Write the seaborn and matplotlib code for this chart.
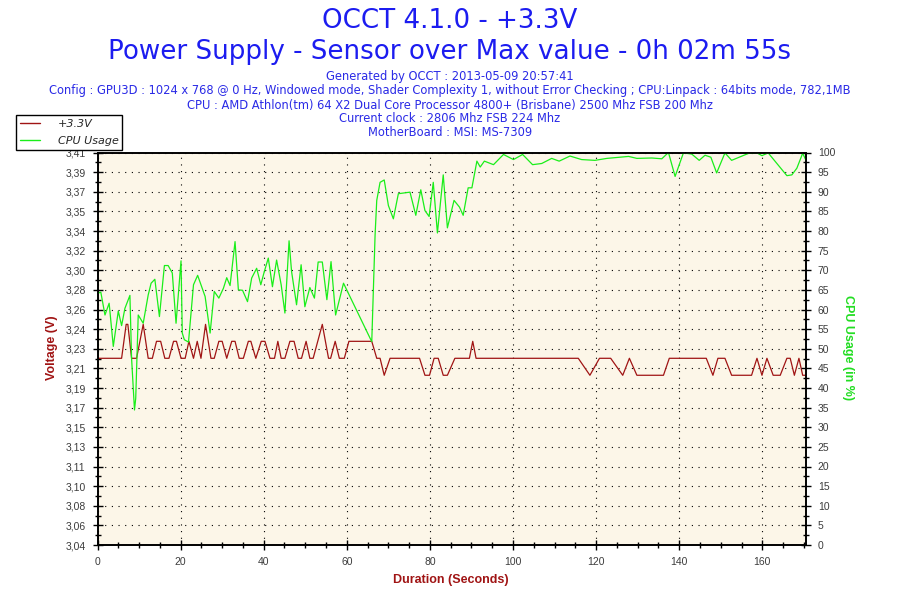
import matplotlib
matplotlib.use('Agg')
import numpy as np
import matplotlib.pyplot as plt
import seaborn as sns
from matplotlib.lines import Line2D
from matplotlib.ticker import MultipleLocator, FixedLocator

# --- data ---
cpu_time = [0.2, 0.8, 1.8, 2.8, 3.8, 5.0, 5.8, 6.6, 7.8, 8.2, 8.9, 9.2, 9.8, 11.0, 12.2, 12.9,
            13.8, 14.9, 16.1, 17.0, 18.0, 18.9, 20.1, 20.4, 20.9, 21.9, 23.1, 24.1, 25.9, 27.1,
            28.1, 29.2, 30.3, 31.1, 31.9, 33.1, 33.9, 34.9, 36.1, 37.1, 38.3, 39.3, 40.1, 41.1,
            42.1, 43.1, 44.2, 45.1, 46.1, 46.7, 47.9, 49.0, 49.9, 51.1, 52.2, 53.1, 54.1, 55.2,
            56.2, 57.3, 59.2, 66.0, 66.8, 67.2, 68.0, 69.0, 70.0, 71.2, 72.4, 75.2, 76.6, 77.8,
            78.8, 79.8, 80.8, 81.8, 83.2, 84.2, 85.8, 87.1, 88.0, 89.2, 90.1, 91.3, 92.1, 93.1,
            95.3, 97.7, 100.1, 102.3, 104.7, 106.9, 109.3, 111.1, 113.7, 116.5, 119.7, 122.6,
            127.8, 129.8, 133.4, 135.8, 137.4, 139.0, 141.0, 143.0, 144.8, 146.2, 147.6, 149.0,
            151.0, 152.6, 155.8, 157.0, 158.7, 159.9, 161.4, 165.9, 167.1, 168.3, 169.7, 170.5]
cpu_usage = [64.2, 64.4, 58.6, 61.6, 50.6, 59.6, 55.9, 60.3, 63.6, 47.6, 34.4, 37.4, 58.6, 56.5,
             63.7, 66.7, 67.7, 58.2, 71.2, 71.2, 69.3, 56.5, 72.4, 54.0, 52.3, 51.7, 66.3, 68.7,
             63.3, 54.0, 64.6, 62.9, 65.4, 68.1, 66.1, 77.3, 65.0, 64.9, 62.0, 68.0, 70.5, 66.3,
             69.5, 73.1, 65.8, 72.6, 66.3, 59.1, 77.5, 69.7, 61.2, 71.4, 60.7, 65.6, 62.9, 72.1,
             72.1, 62.5, 72.2, 58.6, 66.7, 51.8, 79.0, 87.8, 92.4, 93.0, 86.5, 83.1, 89.5, 89.9,
             84.0, 90.5, 85.2, 83.7, 92.4, 79.5, 94.3, 80.8, 87.8, 86.1, 84.0, 91.0, 91.0, 97.8,
             96.3, 97.8, 96.9, 99.5, 98.2, 99.5, 96.9, 97.2, 98.5, 97.8, 99.1, 98.2, 98.0, 98.5,
             99.0, 98.5, 98.6, 98.4, 100.0, 93.9, 99.9, 99.6, 98.0, 99.3, 98.8, 94.8, 99.9, 98.0,
             99.4, 99.9, 99.9, 99.2, 99.9, 94.1, 94.3, 96.0, 99.8, 98.0]

volt_time = [0.0, 5.8, 6.9, 7.3, 8.2, 9.4, 11.0, 12.2, 13.2, 14.2, 15.2, 16.2, 17.2, 18.3, 19.0,
             20.1, 21.1, 22.0, 23.1, 24.0, 24.9, 26.0, 27.3, 28.1, 29.2, 30.0, 31.1, 32.3, 33.1,
             34.1, 35.1, 36.3, 36.9, 38.1, 39.4, 40.3, 41.5, 42.6, 43.4, 44.2, 45.1, 46.3, 47.3,
             48.3, 49.1, 50.2, 51.1, 51.9, 54.1, 55.6, 56.1, 57.2, 58.2, 59.4, 60.5, 66.0, 67.2,
             68.0, 69.0, 70.4, 77.5, 78.8, 79.9, 81.0, 82.0, 83.2, 84.2, 86.0, 89.5, 90.3, 91.1,
             115.7, 118.5, 120.8, 123.5, 126.4, 128.0, 129.8, 136.2, 137.6, 146.5, 148.1, 149.3,
             151.0, 152.6, 157.4, 158.7, 159.9, 161.1, 162.6, 164.3, 165.9, 166.7, 167.7, 168.8,
             169.7, 170.5]
voltage = [3.216, 3.216, 3.248, 3.248, 3.216, 3.216, 3.248, 3.216, 3.216, 3.232, 3.232, 3.216,
           3.216, 3.232, 3.232, 3.216, 3.216, 3.232, 3.216, 3.232, 3.216, 3.248, 3.216, 3.216,
           3.232, 3.232, 3.216, 3.232, 3.232, 3.216, 3.216, 3.232, 3.232, 3.216, 3.232, 3.232,
           3.216, 3.216, 3.232, 3.216, 3.216, 3.232, 3.232, 3.216, 3.216, 3.232, 3.216, 3.216,
           3.248, 3.216, 3.216, 3.232, 3.216, 3.216, 3.232, 3.232, 3.216, 3.216, 3.200, 3.216,
           3.216, 3.200, 3.200, 3.216, 3.216, 3.200, 3.200, 3.216, 3.216, 3.232, 3.216,
           3.216, 3.200, 3.216, 3.216, 3.200, 3.216, 3.200, 3.200, 3.216, 3.216, 3.200, 3.216,
           3.216, 3.200, 3.200, 3.216, 3.200, 3.216, 3.200, 3.200, 3.216, 3.216, 3.200, 3.216,
           3.200, 3.200]

volt_labels = ['3,04', '3,06', '3,08', '3,10', '3,11', '3,13', '3,15', '3,17', '3,19', '3,21',
               '3,23', '3,24', '3,26', '3,28', '3,30', '3,32', '3,34', '3,35', '3,37', '3,39',
               '3,41']

title_1 = 'OCCT 4.1.0 - +3.3V'
title_2 = 'Power Supply - Sensor over Max value - 0h 02m 55s'
info_lines = ['Generated by OCCT : 2013-05-09 20:57:41',
              'Config : GPU3D : 1024 x 768 @ 0 Hz, Windowed mode, Shader Complexity 1, without Error Checking ; CPU:Linpack : 64bits mode, 782,1MB',
              'CPU : AMD Athlon(tm) 64 X2 Dual Core Processor 4800+ (Brisbane) 2500 Mhz FSB 200 Mhz',
              'Current clock : 2806 Mhz FSB 224 Mhz',
              'MotherBoard : MSI: MS-7309']

RED = '#a01414'
GREEN = '#1aee1a'
BLUE = '#1c1cf0'
SUB_BLUE = '#2a2ae6'
TICK_FONT = 'Liberation Sans'

sns.set_style('white')
plt.rcParams['font.family'] = ['DejaVu Sans']

fig = plt.figure(figsize=(9, 6), dpi=100)
ax = fig.add_axes([97.5 / 900, 55 / 600, (806 - 97.5) / 900, (545 - 152.5) / 600])
ax.set_facecolor('#fcf6e8')
ax2 = ax.twinx()

sns.lineplot(x=volt_time, y=voltage, ax=ax, color=RED, linewidth=0.9, legend=False)
sns.lineplot(x=cpu_time, y=cpu_usage, ax=ax2, color=GREEN, linewidth=0.9, legend=False)

ax.set_xlim(0, 170.5)
ax.set_ylim(3.04, 3.41)
ax2.set_ylim(0, 100)

volt_ticks = np.linspace(3.04, 3.41, len(volt_labels))
ax.set_yticks(volt_ticks)
ax.set_yticklabels(volt_labels)
ax.yaxis.set_minor_locator(FixedLocator((volt_ticks[:-1] + volt_ticks[1:]) / 2))
ax.set_xticks(range(0, 161, 20))
ax.xaxis.set_minor_locator(MultipleLocator(5))
ax2.set_yticks(range(0, 101, 5))
ax2.yaxis.set_minor_locator(MultipleLocator(2.5))

for a in (ax, ax2):
    a.set_xlabel('')
    a.set_ylabel('')
    a.tick_params(which='major', direction='inout', length=7, width=1, color='black',
                  labelsize=7.5, labelcolor='#3c3c3c', pad=5)
    a.tick_params(which='minor', direction='inout', length=4.5, width=1, color='black')
    for s in a.spines.values():
        s.set_color('black')
        s.set_linewidth(1.2)
    for lab in a.get_xticklabels() + a.get_yticklabels():
        lab.set_family(TICK_FONT)
ax.tick_params(axis='x', which='both', bottom=True, top=False)
ax.tick_params(axis='y', which='both', left=True, right=False)
ax2.tick_params(axis='y', which='both', right=True, left=False)

ax.grid(True, which='major', color='black', linestyle=(0, (1, 5)), linewidth=0.8)
ax.set_axisbelow(True)

# titles
fig.text(0.5, 1 - 21 / 600, title_1, ha='center', va='center', fontsize=18.8, color=BLUE)
fig.text(0.5, 1 - 52 / 600, title_2, ha='center', va='center', fontsize=18.8, color=BLUE)
for line, yp in zip(info_lines, [76.5, 91, 105, 119, 132.5]):
    fig.text(0.5, 1 - yp / 600, line, ha='center', va='center', fontsize=8.3, color=SUB_BLUE)

# axis labels
fig.text(52 / 900, 1 - 348 / 600, 'Voltage (V)', rotation=90, ha='center', va='center',
         fontsize=9, fontweight='bold', color=RED, family=TICK_FONT)
fig.text(451 / 900, 1 - 580 / 600, 'Duration (Seconds)', ha='center', va='center',
         fontsize=9, fontweight='bold', color=RED, family=TICK_FONT)
fig.text(848 / 900, 1 - 348 / 600, 'CPU Usage (in %)', rotation=270, ha='center', va='center',
         fontsize=9, fontweight='bold', color='#22dd22', family=TICK_FONT)

handles = [Line2D([], [], color=RED, linewidth=1.0), Line2D([], [], color=GREEN, linewidth=1.0)]
leg = fig.legend(handles, ['+3.3V', 'CPU Usage'], loc='upper left',
                 bbox_to_anchor=(16 / 900, 1 - 115 / 600), fancybox=False, edgecolor='black',
                 framealpha=1, borderaxespad=0, prop={'style': 'italic', 'size': 8},
                 handlelength=1.8, handletextpad=1.6, borderpad=0.35, labelspacing=0.65)
leg.get_frame().set_linewidth(1.0)

fig.savefig('out.png', dpi=100)
